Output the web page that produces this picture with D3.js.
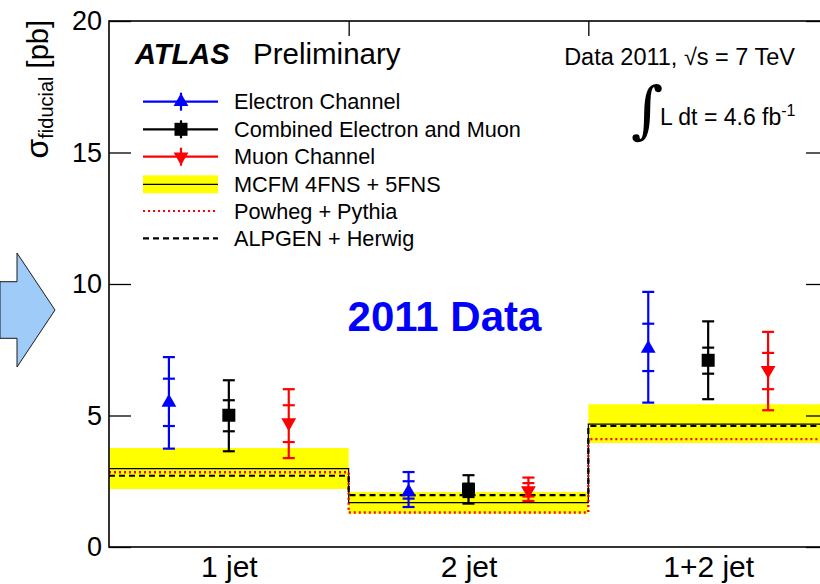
<!DOCTYPE html>
<html>
<head>
  <meta charset="utf-8">
  <script src="https://d3js.org/d3.v7.min.js"></script>
  <style>
    body { margin: 0; background: #fff; }
    text { font-family: "Liberation Sans", Arial, Helvetica, sans-serif; }
  </style>
</head>
<body>
<script>
// bins and measured cross sections [pb]
var bins = ["1 jet", "2 jet", "1+2 jet"];

var elecVal   = [5.50, 2.09, 7.55];
var elecStatL = [4.60, 1.84, 6.69];
var elecStatH = [6.40, 2.50, 8.49];
var elecTotL  = [3.74, 1.52, 5.49];
var elecTotH  = [7.22, 2.85, 9.70];

var combVal   = [5.01, 2.18, 7.10];
var combStatL = [4.40, 1.90, 6.59];
var combStatH = [5.58, 2.41, 7.58];
var combTotL  = [3.64, 1.65, 5.62];
var combTotH  = [6.34, 2.73, 8.58];

var muonVal   = [4.73, 2.15, 6.72];
var muonStatL = [3.99, 1.92, 6.00];
var muonStatH = [5.39, 2.43, 7.38];
var muonTotL  = [3.38, 1.75, 5.20];
var muonTotH  = [6.00, 2.64, 8.18];

// theory predictions
var mcfm    = [2.98, 1.69, 4.67];
var mcfmLo  = [2.21, 1.27, 3.95];
var mcfmHi  = [3.76, 2.09, 5.43];
var powheg  = [2.84, 1.31, 4.10];
var alpgen  = [2.71, 1.97, 4.60];

var yMajor = [0, 5, 10, 15, 20];

var svg = d3.select("body").append("svg")
  .attr("width", 820)
  .attr("height", 584);

var x = d3.scaleLinear().domain([0, 3]).range([109, 828]);
var y = d3.scaleLinear().domain([0, 20]).range([547, 21]);

// blue arrow on the left
svg.append("polygon")
  .attr("points", "0,281.7 17,281.7 17,253 55,310 17,367 17,338.3 0,338.3")
  .style("fill", "#9ecbf7")
  .style("stroke", "#1a1a1a")
  .style("stroke-width", 1);

// theory band (yellow)
var idx = [0, 1, 2, 3];
function v(arr, i) { return arr[Math.min(i, 2)]; }

var band = d3.area()
  .curve(d3.curveStepAfter)
  .x(function(i) { return x(i); })
  .y0(function(i) { return y(v(mcfmLo, i)); })
  .y1(function(i) { return y(v(mcfmHi, i)); });

svg.append("path")
  .datum(idx)
  .attr("d", band)
  .style("fill", "#ffff00");

function stepLine(arr) {
  return d3.line()
    .curve(d3.curveStepAfter)
    .x(function(i) { return x(i); })
    .y(function(i) { return y(v(arr, i)); })(idx);
}

svg.append("path").attr("d", stepLine(mcfm))
  .style("fill", "none").style("stroke", "#000").style("stroke-width", 1.2);
svg.append("path").attr("d", stepLine(powheg))
  .style("fill", "none").style("stroke", "#ff0000").style("stroke-width", 2.4)
  .style("stroke-dasharray", "2,3");
svg.append("path").attr("d", stepLine(alpgen))
  .style("fill", "none").style("stroke", "#000").style("stroke-width", 2.2)
  .style("stroke-dasharray", "6,4");

// data points
var series = [
  {val: elecVal, sl: elecStatL, sh: elecStatH, tl: elecTotL, th: elecTotH, color: "#0000ff", shape: "up", off: -0.25},
  {val: combVal, sl: combStatL, sh: combStatH, tl: combTotL, th: combTotH, color: "#000000", shape: "sq", off: 0},
  {val: muonVal, sl: muonStatL, sh: muonStatH, tl: muonTotL, th: muonTotH, color: "#ff0000", shape: "down", off: 0.25}
];

var triUp = d3.symbol().type(d3.symbolTriangle).size(95);
function marker(g, shape, color) {
  if (shape === "sq") {
    g.append("rect").attr("x", -6.5).attr("y", -6.5).attr("width", 13).attr("height", 13)
      .style("fill", color);
  } else {
    g.append("path").attr("d", triUp())
      .attr("transform", shape === "down" ? "rotate(180)" : null)
      .style("fill", color);
  }
}

series.forEach(function(s) {
  [0, 1, 2].forEach(function(i) {
    var cx = x(i + 0.5 + s.off);
    var g = svg.append("g").style("stroke", s.color).style("stroke-width", 2.2);
    g.append("line").attr("x1", cx).attr("x2", cx)
      .attr("y1", y(s.tl[i])).attr("y2", y(s.th[i]));
    [s.sl[i], s.sh[i], s.tl[i], s.th[i]].forEach(function(e) {
      g.append("line").attr("x1", cx - 6).attr("x2", cx + 6)
        .attr("y1", y(e)).attr("y2", y(e));
    });
    var m = svg.append("g").attr("transform", "translate(" + cx + "," + y(s.val[i]) + ")");
    marker(m, s.shape, s.color);
  });
});

// axes
var leftAx = svg.append("g").attr("transform", "translate(109,0)");
leftAx.call(d3.axisLeft(y).tickValues(d3.range(0, 21, 1)).tickSize(-11).tickFormat(""));
leftAx.call(d3.axisLeft(y).tickValues(yMajor).tickSize(-22).tickPadding(7));
leftAx.selectAll(".domain").remove();
leftAx.selectAll("text").style("font-size", "27px").style("font-family", "Liberation Sans, Arial, sans-serif");
leftAx.selectAll("line").style("stroke-width", 1.3);

var rightAx = svg.append("g").attr("transform", "translate(828,0)");
rightAx.call(d3.axisRight(y).tickValues(d3.range(0, 21, 1)).tickSize(-11).tickFormat(""));
rightAx.call(d3.axisRight(y).tickValues(yMajor).tickSize(-22).tickFormat(""));
rightAx.selectAll(".domain").remove();
rightAx.selectAll("line").style("stroke-width", 1.3);

var bottomAx = svg.append("g").attr("transform", "translate(0,547)");
bottomAx.call(d3.axisBottom(x).tickValues([1, 2]).tickSize(-15).tickFormat(""));
bottomAx.call(d3.axisBottom(x).tickValues([0.5, 1.5, 2.5]).tickSize(0).tickPadding(9)
  .tickFormat(function(d) { return bins[Math.floor(d)]; }));
bottomAx.selectAll(".domain").remove();
bottomAx.selectAll("text").style("font-size", "30px").style("font-family", "Liberation Sans, Arial, sans-serif");
bottomAx.selectAll("line").style("stroke-width", 1.3);

var topAx = svg.append("g").attr("transform", "translate(0,21)");
topAx.call(d3.axisTop(x).tickValues([1, 2]).tickSize(-15).tickFormat(""));
topAx.selectAll(".domain").remove();
topAx.selectAll("line").style("stroke-width", 1.3);

svg.append("rect")
  .attr("x", 109).attr("y", 21).attr("width", 719).attr("height", 526)
  .style("fill", "none").style("stroke", "#000").style("stroke-width", 1.6);

// y title
var yt = svg.append("text")
  .attr("transform", "translate(48,20) rotate(-90)")
  .attr("text-anchor", "end")
  .style("font-size", "29px");
yt.append("tspan").style("font-size", "32px").text("σ");
yt.append("tspan").attr("dy", 5).style("font-size", "20px").text("fiducial");
yt.append("tspan").attr("dy", -5).text(" [pb]");

// labels
svg.append("text").attr("x", 135).attr("y", 64)
  .style("font-size", "29px").style("font-weight", "bold").style("font-style", "italic")
  .text("ATLAS");
svg.append("text").attr("x", 253).attr("y", 64)
  .style("font-size", "29.5px").text("Preliminary");

svg.append("text").attr("x", 795).attr("y", 65).attr("text-anchor", "end")
  .style("font-size", "23.5px").text("Data 2011, √s = 7 TeV");

svg.append("text").attr("x", 631).attr("y", 131)
  .style("font-size", "62px").style("font-family", "DejaVu Serif")
  .text("∫");
var lumi = svg.append("text").attr("x", 660).attr("y", 125)
  .style("font-size", "23px");
lumi.append("tspan").text("L dt = 4.6 fb");
lumi.append("tspan").attr("dy", -9).style("font-size", "16px").text("-1");

svg.append("text").attr("x", 444.5).attr("y", 331).attr("text-anchor", "middle")
  .style("font-size", "42px").style("font-weight", "bold").style("fill", "#0000ff")
  .text("2011 Data");

// legend
var legNames = ["Electron Channel", "Combined Electron and Muon", "Muon Channel",
  "MCFM 4FNS + 5FNS", "Powheg + Pythia", "ALPGEN + Herwig"];
var legY = [101.7, 129.3, 156.7, 184.3, 211, 238.3];
var lx0 = 143, lx1 = 218, lxc = 181;

legNames.forEach(function(name, i) {
  var cy = legY[i];
  var g = svg.append("g");
  if (i < 3) {
    var s = series[i];
    g.append("line").attr("x1", lx0).attr("x2", lx1).attr("y1", cy).attr("y2", cy)
      .style("stroke", s.color).style("stroke-width", 2.2);
    g.append("line").attr("x1", lxc).attr("x2", lxc).attr("y1", cy - 9).attr("y2", cy + 9)
      .style("stroke", s.color).style("stroke-width", 2.2);
    var m = g.append("g").attr("transform", "translate(" + lxc + "," + cy + ")");
    marker(m, s.shape, s.color);
  } else if (i === 3) {
    g.append("rect").attr("x", lx0).attr("y", cy - 9).attr("width", lx1 - lx0).attr("height", 18)
      .style("fill", "#ffff00");
    g.append("line").attr("x1", lx0).attr("x2", lx1).attr("y1", cy).attr("y2", cy)
      .style("stroke", "#000").style("stroke-width", 1.2);
  } else {
    g.append("line").attr("x1", lx0).attr("x2", lx1).attr("y1", cy).attr("y2", cy)
      .style("stroke", i === 4 ? "#ff0000" : "#000").style("stroke-width", 2.2)
      .style("stroke-dasharray", i === 4 ? "2,3" : "6,4");
  }
  g.append("text").attr("x", 234).attr("y", cy + 7.5)
    .style("font-size", "21.7px").text(name);
});
</script>
</body>
</html>
